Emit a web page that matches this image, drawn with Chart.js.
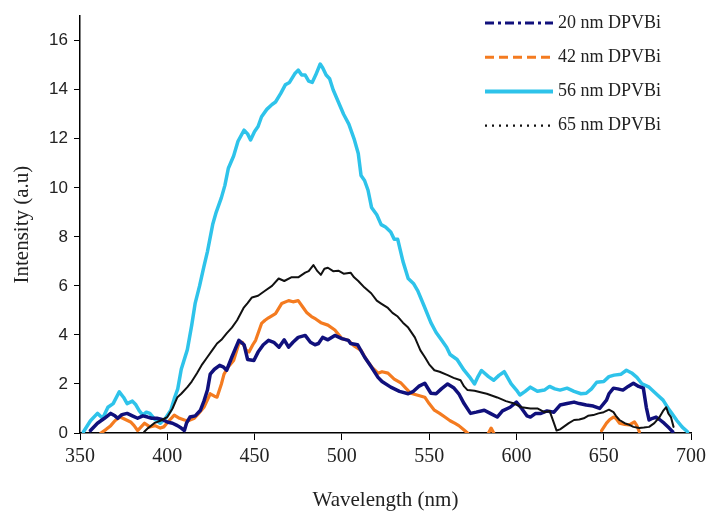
<!DOCTYPE html>
<html>
<head>
<meta charset="utf-8">
<script src="https://cdn.jsdelivr.net/npm/chart.js@4/dist/chart.umd.min.js"></script>
<style>
html,body{margin:0;padding:0;background:#fff;}
#wrap{width:711px;height:519px;position:relative;}
</style>
</head>
<body>
<div id="wrap"><canvas id="c" width="711" height="519"></canvas></div>
<script>
// ---- Data ----
const seriesLabels = ["20 nm DPVBi", "42 nm DPVBi", "56 nm DPVBi", "65 nm DPVBi"];
const xTicks = [350, 400, 450, 500, 550, 600, 650, 700];
const yTicks = [0, 2, 4, 6, 8, 10, 12, 14, 16];

// 20 nm DPVBi
const wl20 = [356,360,364,367.6,370,371.6,374,377,380,383,386,388.7,391,394,397,400,403,405.8,408,409.8,411,413,416,419,421,423,424.6,427,430,432,434,437,441,444,446,449.6,452,455,458,461,464,467,469.5,472,475,479,482,484.6,486.6,489,492,496,500,503.7,505,509,513,516.8,520.7,523,528,533,538,541,544,547.5,551,554,557,560.6,564,567,570,573.7,577,581.6,585,589,592,596.4,600,603,606,608,611,614,617.5,621.5,625,629,633,636,640,644,647.7,651.6,653,655.6,658,661,664,667,670,672.7,674.4,676,678,680,682,684.6,687.5,689.5];
const val20 = [0.1,0.4,0.6,0.8,0.7,0.6,0.75,0.8,0.7,0.6,0.7,0.65,0.6,0.6,0.55,0.45,0.4,0.3,0.2,0.1,0.4,0.65,0.7,0.93,1.3,1.75,2.4,2.6,2.76,2.7,2.56,3.1,3.78,3.6,3.0,2.96,3.3,3.6,3.78,3.7,3.5,3.8,3.5,3.7,3.9,3.98,3.7,3.6,3.65,3.9,3.8,3.98,3.85,3.78,3.65,3.6,3.1,2.7,2.27,2.1,1.87,1.7,1.6,1.7,1.9,2.03,1.62,1.6,1.8,2.0,1.85,1.6,1.2,0.8,0.85,0.93,0.8,0.65,0.9,1.05,1.26,1.0,0.7,0.65,0.8,0.8,0.9,0.85,1.14,1.2,1.26,1.2,1.14,1.1,1.0,1.34,1.6,1.83,1.8,1.75,1.9,2.03,1.9,1.83,1.05,0.53,0.6,0.65,0.55,0.4,0.2,0.05];

// 42 nm DPVBi (null = below the axis, not drawn)
const wl42 = [362,365,367.6,370,373,376,379,381,383,385,387,390,393,396,398,401,404,407,409.8,412,415.5,418,421,424.6,427,428.5,431,432.5,435,438,441,443,445,446.8,449,450.6,454,456,458,462,465.5,469.5,472,475,478,480,482.6,485,488,492,496,500,503.7,507,511,514,517,520.7,523,526.4,530,534,537,539.5,543,547.5,550,553,556,559,562,564.6,567,570,572,578,584,585.5,587,620,648.8,651.6,653.5,655.6,657,659,662,664.7,667.6,669,670.4];
const val42 = [0.0,0.15,0.3,0.5,0.65,0.55,0.45,0.3,0.1,0.25,0.4,0.25,0.3,0.2,0.25,0.5,0.73,0.6,0.53,0.5,0.6,0.8,1.05,1.6,1.5,1.46,2.0,2.4,2.7,2.96,3.65,3.7,3.4,3.3,3.6,3.78,4.47,4.6,4.7,4.87,5.28,5.4,5.35,5.4,5.1,4.9,4.75,4.65,4.5,4.4,4.2,3.85,3.78,3.55,3.37,3.0,2.7,2.44,2.5,2.44,2.2,2.03,1.8,1.62,1.55,1.46,1.2,0.93,0.8,0.65,0.5,0.4,0.3,0.12,0.0,null,0.0,0.2,0.0,null,0.1,0.4,0.55,0.65,0.6,0.4,0.35,0.33,0.45,0.3,0.05];

// 56 nm DPVBi
const wl56 = [352,356,360,363,366,369,372.5,375,377,380,382,384,386,388,390,393,396,399,402,404,406,408,411.5,414,416,418.5,421,423,426,428,431,433,435,438,440.5,444,446,447.7,450,452,454,457,460,462,465,467.6,470,473,475,477,479,481,483,485,487.6,489,491,493,495,498,501,504,507,509.4,511,513,515,517,520,522.5,525,528,530,532,535,538,541,543.5,547,551,554,557,560,562,566,570,573,576,578,580,584,587,590,593,597,600,602,605,608,612,616,619,622,625,629,633,637,640,643,646,650,653,656,660,663,666,669,672,676,680,684,687,689,692,695,698];
const val56 = [0.05,0.5,0.8,0.6,1.05,1.2,1.68,1.45,1.2,1.3,1.15,0.9,0.73,0.85,0.8,0.55,0.4,0.6,0.93,1.4,1.8,2.6,3.4,4.4,5.3,6.0,6.8,7.4,8.5,9.0,9.6,10.1,10.8,11.3,11.9,12.35,12.2,11.95,12.3,12.5,12.9,13.2,13.4,13.5,13.85,14.2,14.3,14.65,14.8,14.6,14.6,14.35,14.3,14.6,15.05,14.9,14.6,14.45,14.0,13.5,13.0,12.6,12.0,11.4,10.5,10.3,9.9,9.2,8.9,8.5,8.4,8.2,7.9,7.9,7.0,6.3,6.1,5.8,5.2,4.5,4.1,3.8,3.5,3.2,3.0,2.56,2.3,2.0,2.3,2.55,2.3,2.15,2.35,2.5,2.0,1.75,1.55,1.7,1.87,1.7,1.75,1.9,1.8,1.75,1.83,1.7,1.6,1.62,1.8,2.07,2.1,2.3,2.36,2.4,2.56,2.45,2.27,2.0,1.87,1.6,1.34,1.0,0.8,0.5,0.24,0.05];

// 65 nm DPVBi
const wl65 = [386.8,389,392.5,396,400,403,405.8,408,411.5,414,417,420,423,426,428.5,431,434,437,440,443.7,446,448.5,452,456,460,463.8,467,471,475,479,481,483.7,486,488,490,492,495,498,501,505,507,509.4,513,516.8,520,522.5,526.4,529,532,535,538,541.8,545,547.5,550,553,556,560.6,564,568,570,572,576,580,583,589,594,598.7,603,608,612,616,619,621.5,623,625,627,630,633,636,638.6,641,644,647,650,653,655.6,657,659,662,664.7,667,670.4,673,676,679,682,684,685.8,687,688.5,690];
const val65 = [0.05,0.2,0.4,0.5,0.65,1.0,1.46,1.6,1.87,2.1,2.44,2.8,3.1,3.4,3.65,3.8,4.06,4.3,4.6,5.1,5.3,5.53,5.6,5.8,6.0,6.3,6.2,6.35,6.35,6.54,6.6,6.85,6.6,6.45,6.7,6.74,6.6,6.62,6.5,6.54,6.35,6.2,5.93,5.7,5.4,5.28,5.1,4.9,4.75,4.5,4.3,3.9,3.37,3.1,2.8,2.56,2.5,2.36,2.25,2.15,1.9,1.75,1.72,1.65,1.6,1.45,1.3,1.2,1.05,1.0,1.0,0.85,0.9,0.4,0.1,0.15,0.25,0.4,0.53,0.55,0.6,0.7,0.73,0.8,0.85,0.95,0.85,0.7,0.53,0.4,0.33,0.25,0.2,0.22,0.25,0.4,0.65,0.9,1.05,0.8,0.65,0.25];

// ---- Styles ----
const colors = ["#10107c", "#f47b20", "#2ec3ea", "#111111"];
const widths = [3.5, 3.2, 3.5, 2];
const legendDash = [[9,4,3,4], [9,5], [], [2,5]];

function pts(xs, ys){ return xs.map((x,i)=>({x:x, y:ys[i]})); }

const datasets = [
  {label: seriesLabels[0], data: pts(wl20, val20)},
  {label: seriesLabels[1], data: pts(wl42, val42)},
  {label: seriesLabels[2], data: pts(wl56, val56)},
  {label: seriesLabels[3], data: pts(wl65, val65)}
].map((d,i)=>Object.assign(d, {
  borderColor: colors[i], backgroundColor: colors[i], borderWidth: widths[i],
  pointRadius: 0, tension: 0, spanGaps: false, fill: false,
  borderJoinStyle: 'round', borderCapStyle: 'round', order: [1,2,3,0][i]
}));

const legendPlugin = {
  id: 'customLegend',
  afterDraw(chart){
    const c = chart.ctx;
    const x0 = 485, x1 = 553, tx = 558, y0 = 23, gap = 34.2;
    seriesLabels.forEach((lab,i)=>{
      const y = y0 + i*gap;
      c.save();
      c.strokeStyle = colors[i];
      c.lineWidth = i===2 ? 4 : (i===3 ? 2.2 : 3);
      c.setLineDash(legendDash[i]);
      c.beginPath(); c.moveTo(x0, y); c.lineTo(x1, y); c.stroke();
      c.restore();
      c.save();
      c.fillStyle = '#222';
      c.font = '18px "Liberation Serif"';
      c.textBaseline = 'middle';
      c.textAlign = 'left';
      c.fillText(lab, tx, y);
      c.restore();
    });
  }
};

new Chart(document.getElementById('c'), {
  type: 'line',
  data: {datasets: datasets},
  plugins: [legendPlugin],
  options: {
    responsive: false,
    animation: false,
    layout: {padding: {left: 0, right: 16, top: 13, bottom: 0}},
    plugins: {legend: {display: false}, tooltip: {enabled: false}},
    scales: {
      x: {
        type: 'linear', min: xTicks[0], max: xTicks[xTicks.length-1],
        afterBuildTicks(s){ s.ticks = xTicks.map(v=>({value:v})); },
        ticks: {font: {family: 'Liberation Serif', size: 20}, color: '#222', padding: 5, maxRotation: 0, autoSkip: false},
        grid: {display: true, drawOnChartArea: false, drawTicks: true, tickLength: 7, color: '#000', tickColor: '#000'},
        border: {display: true, color: '#000', width: 1.5},
        title: {display: true, text: 'Wavelength (nm)', font: {family: 'Liberation Serif', size: 21}, color: '#222', padding: 6},
        afterFit(s){ s.height = 86; }
      },
      y: {
        type: 'linear', min: 0, max: 17,
        afterBuildTicks(s){ s.ticks = yTicks.map(v=>({value:v})); },
        ticks: {font: {family: 'Liberation Sans', size: 17}, color: '#222', padding: 6, autoSkip: false},
        grid: {display: true, drawOnChartArea: false, drawTicks: true, tickLength: 6, color: '#000', tickColor: '#000'},
        border: {display: true, color: '#000', width: 1.5},
        title: {display: true, text: 'Intensity (a.u)', font: {family: 'Liberation Serif', size: 21}, color: '#222', padding: 10},
        afterFit(s){ s.width = 80; }
      }
    }
  }
});
</script>
</body>
</html>
